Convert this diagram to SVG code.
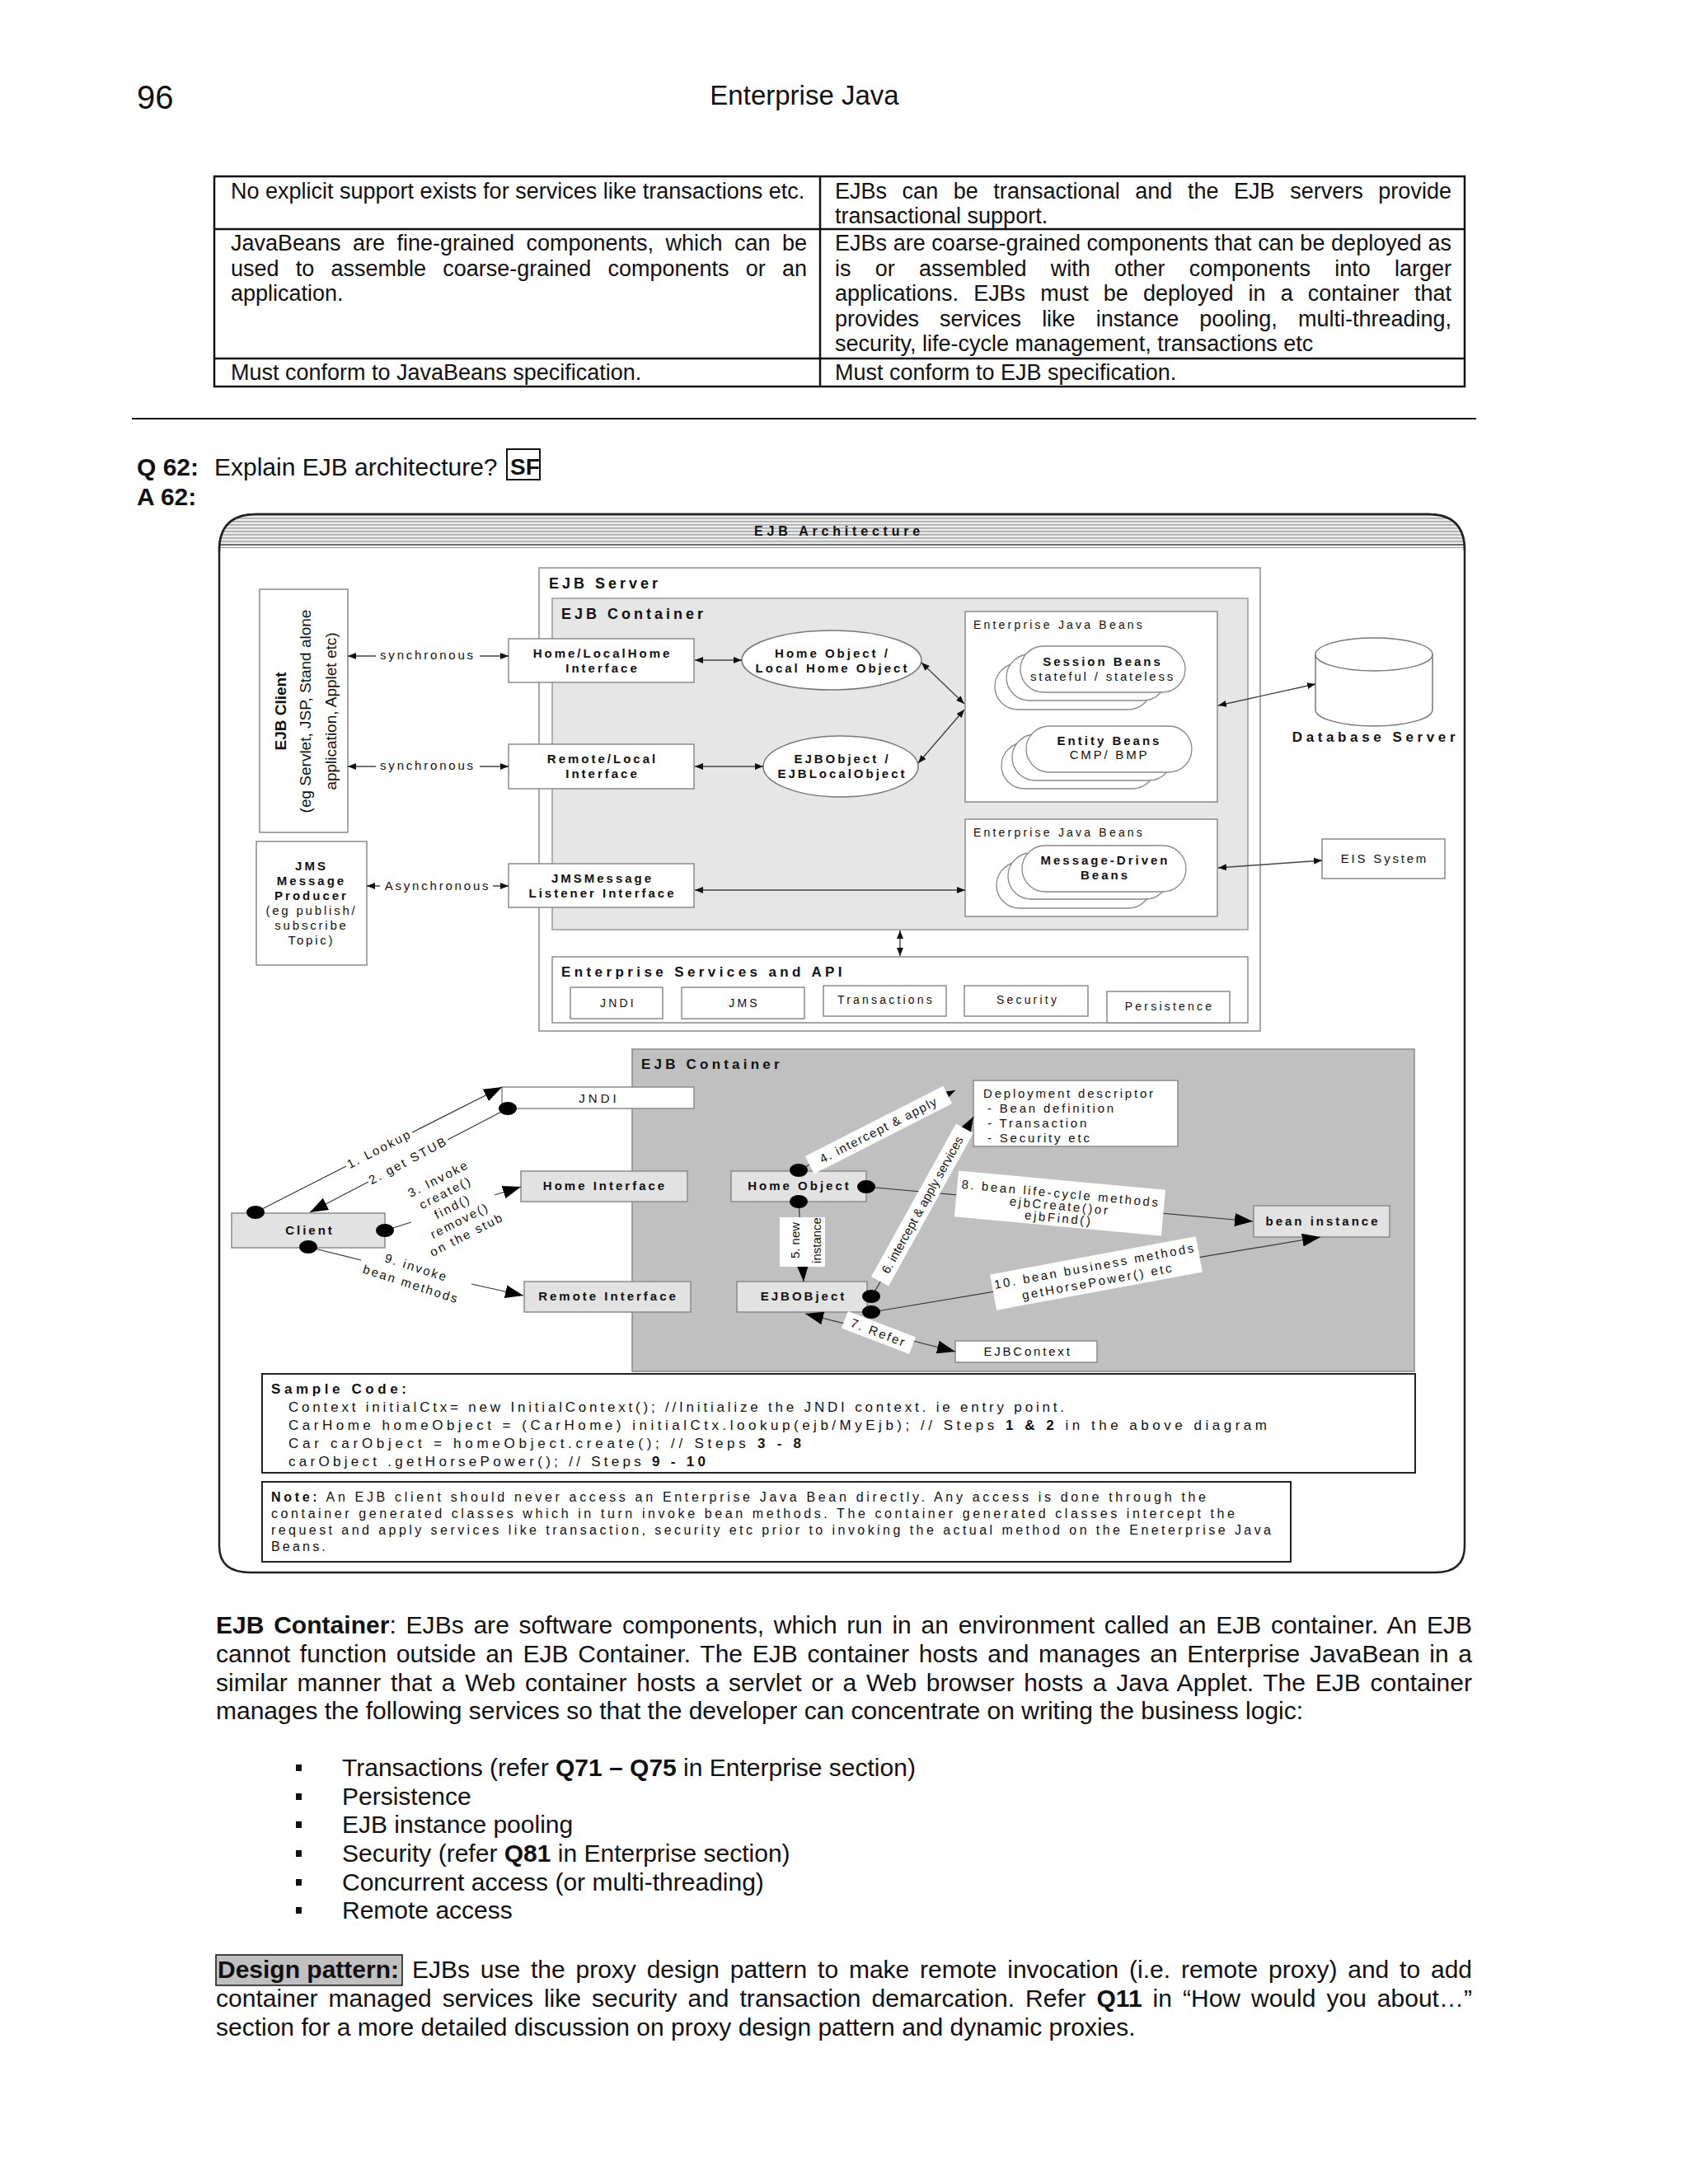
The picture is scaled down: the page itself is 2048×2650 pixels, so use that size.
<svg xmlns="http://www.w3.org/2000/svg" width="2048" height="2650" viewBox="0 0 2048 2650">
<style>
text{font-family:"Liberation Sans",Arial,Helvetica,sans-serif;fill:#111}
.b{font-weight:bold}
.m{text-anchor:middle}
.tb{font-size:27px}
.bd{font-size:30px}
.box{fill:#fff;stroke:#8a8a8a;stroke-width:1.5}
.gbox{fill:#e2e2e2;stroke:#8a8a8a;stroke-width:1.5}
.d15b{font-size:15px;font-weight:bold;letter-spacing:3px}
.d15{font-size:15px;letter-spacing:2.8px}
.d14{font-size:14px;letter-spacing:3.2px}
.h18{font-size:18px;font-weight:bold;letter-spacing:4px}
.conn{fill:none;stroke:#444;stroke-width:1.4}
.lc{fill:none;stroke:#333;stroke-width:1.2}
.lab{font-size:15px;letter-spacing:2.2px}
.lab2{font-size:15px;letter-spacing:2.6px}
.plain{font-size:15px}
.code{font-size:17px}
.note{font-size:16px}
.tl{fill:none;stroke:#111;stroke-width:2.5}
</style>
<defs>
<marker id="ma" viewBox="0 0 10 8" refX="10" refY="4" markerWidth="10" markerHeight="8" markerUnits="userSpaceOnUse" orient="auto-start-reverse"><path d="M0,0 L10,4 L0,8 z" fill="#111"/></marker>
<marker id="mb" viewBox="0 0 22 16" refX="22" refY="8" markerWidth="22" markerHeight="16" markerUnits="userSpaceOnUse" orient="auto-start-reverse"><path d="M0,0 L22,8 L0,16 z" fill="#000"/></marker>
<pattern id="stripes" width="8" height="4" patternUnits="userSpaceOnUse"><rect width="8" height="4" fill="#ececec"/><rect width="8" height="1.6" fill="#a9a9a9"/></pattern>
</defs>
<rect width="2048" height="2650" fill="#fff"/>

<g id="page-header">
<text x="166" y="132" font-size="40">96</text>
<text x="976" y="127" font-size="33" text-anchor="middle">Enterprise Java</text>
</g>

<g id="comparison-table">
<rect class="tl" x="260" y="214" width="1517" height="255"/>
<line class="tl" x1="260" y1="278" x2="1777" y2="278" stroke-width="3"/>
<line class="tl" x1="260" y1="435" x2="1777" y2="435" stroke-width="3"/>
<line class="tl" x1="995" y1="214" x2="995" y2="469" stroke-width="1.8"/>
<text class="tb" x="280" y="241">No explicit support exists for services like transactions etc.</text>
<text class="tb" x="1013" y="241" word-spacing="11" textLength="748" lengthAdjust="spacing">EJBs can be transactional and the EJB servers provide</text>
<text class="tb" x="1013" y="271">transactional support.</text>
<text class="tb" x="280" y="304" word-spacing="7" textLength="699" lengthAdjust="spacing">JavaBeans are fine-grained components, which can be</text>
<text class="tb" x="280" y="335" word-spacing="12.7" textLength="699" lengthAdjust="spacing">used to assemble coarse-grained components or an</text>
<text class="tb" x="280" y="365">application.</text>
<text class="tb" x="1013" y="304" textLength="748" lengthAdjust="spacing">EJBs are coarse-grained components that can be deployed as</text>
<text class="tb" x="1013" y="335" word-spacing="21.7" textLength="748" lengthAdjust="spacing">is or assembled with other components into larger</text>
<text class="tb" x="1013" y="365" word-spacing="10.6" textLength="748" lengthAdjust="spacing">applications. EJBs must be deployed in a container that</text>
<text class="tb" x="1013" y="396" word-spacing="17.6" textLength="748" lengthAdjust="spacing">provides services like instance pooling, multi-threading,</text>
<text class="tb" x="1013" y="426">security, life-cycle management, transactions etc</text>
<text class="tb" x="280" y="461">Must conform to JavaBeans specification.</text>
<text class="tb" x="1013" y="461">Must conform to EJB specification.</text>
</g>

<line x1="160" y1="508" x2="1791" y2="508" stroke="#111" stroke-width="2"/>

<g id="question">
<text x="166" y="577" font-size="30" class="b">Q 62:</text>
<text x="260" y="577" font-size="30">Explain EJB architecture?</text>
<rect x="615" y="545" width="40" height="37" fill="#fff" stroke="#111" stroke-width="2"/>
<text x="619" y="576" font-size="28" class="b">SF</text>
<text x="166" y="613" font-size="30" class="b">A 62:</text>
</g>

<g id="frame">
<path d="M266,668 Q266,624 311,624 L1733,624 Q1777,624 1777,668 L1777,1876 Q1777,1908 1741,1908 L304,1908 Q266,1908 266,1876 Z" fill="#fff" stroke="#222" stroke-width="2.5"/>
<path d="M267,662 Q268,625 311,625 L1733,625 Q1776,625 1776,662 Z" fill="url(#stripes)"/>
<line x1="267" y1="661" x2="1776" y2="661" stroke="#555" stroke-width="1.5"/>
<line x1="267" y1="664.5" x2="1776" y2="664.5" stroke="#999" stroke-width="1"/>
<path d="M266,668 Q266,624 311,624 L1733,624 Q1777,624 1777,668" fill="none" stroke="#222" stroke-width="2.5"/>
<text x="1018" y="650" font-size="16" class="b m" letter-spacing="4.8">EJB Architecture</text>
</g>

<g id="ejb-server">
<rect class="box" x="654" y="689" width="875" height="562"/>
<text class="h18" x="666" y="714">EJB Server</text>
</g>
<g id="ejb-container-top">
<rect x="670" y="726" width="844" height="402" fill="#e6e6e6" stroke="#999" stroke-width="1.5"/>
<text class="h18" x="681" y="751">EJB Container</text>
</g>

<g id="ejb-client">
<rect class="box" x="315" y="715" width="107" height="295"/>
<text class="b m" font-size="19" transform="translate(347,863) rotate(-90)">EJB Client</text>
<text class="m" font-size="19" transform="translate(377,863) rotate(-90)">(eg Servlet, JSP, Stand alone</text>
<text class="m" font-size="19" transform="translate(408,863) rotate(-90)">application, Applet etc)</text>
</g>

<g id="jms-producer">
<rect class="box" x="311" y="1021" width="134" height="150"/>
<text class="d15b m" x="378" y="1056">JMS</text>
<text class="d15b m" x="378" y="1074">Message</text>
<text class="d15b m" x="378" y="1092">Producer</text>
<text class="d15 m" x="378" y="1110">(eg publish/</text>
<text class="d15 m" x="378" y="1128">subscribe</text>
<text class="d15 m" x="378" y="1146">Topic)</text>
</g>

<g id="home-localhome-interface">
<rect class="box" x="617" y="775" width="225" height="53"/>
<text class="d15b m" x="731" y="798">Home/LocalHome</text>
<text class="d15b m" x="731" y="816">Interface</text>
</g>
<g id="remote-local-interface">
<rect class="box" x="617" y="903" width="225" height="54"/>
<text class="d15b m" x="731" y="926">Remote/Local</text>
<text class="d15b m" x="731" y="944">Interface</text>
</g>
<g id="jms-listener-interface">
<rect class="box" x="617" y="1048" width="225" height="53"/>
<text class="d15b m" x="731" y="1071">JMSMessage</text>
<text class="d15b m" x="731" y="1089">Listener Interface</text>
</g>

<g id="home-object">
<ellipse cx="1009" cy="801" rx="109" ry="36" fill="#fff" stroke="#777" stroke-width="1.5"/>
<text class="d15b m" x="1010" y="798">Home Object /</text>
<text class="d15b m" x="1010" y="816">Local Home Object</text>
</g>
<g id="ejb-object">
<ellipse cx="1020" cy="930" rx="94" ry="37" fill="#fff" stroke="#777" stroke-width="1.5"/>
<text class="d15b m" x="1022" y="926">EJBObject /</text>
<text class="d15b m" x="1022" y="944">EJBLocalObject</text>
</g>

<g id="ejb-beans-1">
<rect class="box" x="1171" y="742" width="306" height="231"/>
<text class="d14" x="1181" y="763">Enterprise Java Beans</text>
<rect x="1207" y="805" width="190" height="56" rx="28" fill="#fff" stroke="#888" stroke-width="1.3"/>
<rect x="1221" y="794" width="194" height="56" rx="28" fill="#fff" stroke="#888" stroke-width="1.3"/>
<rect x="1238" y="784" width="200" height="56" rx="28" fill="#fff" stroke="#888" stroke-width="1.3"/>
<text class="d15b m" x="1338" y="808">Session Beans</text>
<text class="d15 m" x="1338" y="826">stateful / stateless</text>
<rect x="1215" y="901" width="187" height="56" rx="28" fill="#fff" stroke="#888" stroke-width="1.3"/>
<rect x="1228" y="891" width="194" height="56" rx="28" fill="#fff" stroke="#888" stroke-width="1.3"/>
<rect x="1245" y="881" width="201" height="56" rx="28" fill="#fff" stroke="#888" stroke-width="1.3"/>
<text class="d15b m" x="1346" y="904">Entity Beans</text>
<text class="d15 m" x="1346" y="921">CMP/ BMP</text>
</g>

<g id="ejb-beans-2">
<rect class="box" x="1171" y="994" width="306" height="118"/>
<text class="d14" x="1181" y="1015">Enterprise Java Beans</text>
<rect x="1209" y="1046" width="188" height="56" rx="28" fill="#fff" stroke="#888" stroke-width="1.3"/>
<rect x="1223" y="1035" width="195" height="56" rx="28" fill="#fff" stroke="#888" stroke-width="1.3"/>
<rect x="1240" y="1026" width="199" height="56" rx="28" fill="#fff" stroke="#888" stroke-width="1.3"/>
<text class="d15b m" x="1341" y="1049">Message-Driven</text>
<text class="d15b m" x="1341" y="1067">Beans</text>
</g>

<g id="database-server">
<path d="M1596,794 L1596,861 A71,20 0 0 0 1738,861 L1738,794" fill="#fff" stroke="#777" stroke-width="1.5"/>
<ellipse cx="1667" cy="794" rx="71" ry="20" fill="#fff" stroke="#777" stroke-width="1.5"/>
<text class="m b" x="1669" y="900" font-size="17" letter-spacing="4.6">Database Server</text>
</g>

<g id="eis-system">
<rect class="box" x="1604" y="1018" width="149" height="48"/>
<text class="d15 m" x="1680" y="1047">EIS System</text>
</g>

<g id="enterprise-services">
<rect class="box" x="670" y="1161" width="844" height="80"/>
<text x="681" y="1185" font-size="17" class="b" letter-spacing="4.4">Enterprise Services and API</text>
<rect class="box" x="692" y="1198" width="112" height="38"/>
<text class="d14 m" x="750" y="1222">JNDI</text>
<rect class="box" x="827" y="1198" width="149" height="38"/>
<text class="d14 m" x="903" y="1222">JMS</text>
<rect class="box" x="999" y="1196" width="149" height="37"/>
<text class="d14 m" x="1075" y="1218">Transactions</text>
<rect class="box" x="1170" y="1196" width="150" height="37"/>
<text class="d14 m" x="1247" y="1218">Security</text>
<rect class="box" x="1343" y="1203" width="149" height="38"/>
<text class="d14 m" x="1419" y="1226">Persistence</text>
</g>

<g id="ejb-container-bottom">
<rect x="767" y="1273" width="949" height="391" fill="#c0c0c0" stroke="#888" stroke-width="1.5"/>
<text x="778" y="1297" font-size="17" class="b" letter-spacing="4.2">EJB Container</text>
</g>

<g id="jndi-lower">
<rect class="box" x="609" y="1319" width="233" height="26"/>
<text class="m" x="727" y="1338" font-size="15" letter-spacing="4">JNDI</text>
</g>
<g id="client">
<rect class="gbox" x="281" y="1472" width="186" height="42"/>
<text class="d15b m" x="376" y="1498">Client</text>
</g>
<g id="home-interface">
<rect class="gbox" x="632" y="1421" width="202" height="37"/>
<text class="d15b m" x="734" y="1444">Home Interface</text>
</g>
<g id="home-object-lower">
<rect class="gbox" x="887" y="1421" width="164" height="37"/>
<text class="d15b m" x="970" y="1444">Home Object</text>
</g>
<g id="remote-interface">
<rect class="gbox" x="636" y="1555" width="202" height="37"/>
<text class="d15b m" x="738" y="1578">Remote Interface</text>
</g>
<g id="ejbobject-lower">
<rect class="gbox" x="894" y="1555" width="158" height="37"/>
<text class="d15b m" x="975" y="1578">EJBOBject</text>
</g>
<g id="deployment-descriptor">
<rect class="box" x="1181" y="1311" width="248" height="80"/>
<text class="d15" x="1193" y="1332">Deployment descriptor</text>
<text class="d15" x="1198" y="1350">- Bean definition</text>
<text class="d15" x="1198" y="1368">- Transaction</text>
<text class="d15" x="1198" y="1386">- Security etc</text>
</g>
<g id="bean-instance">
<rect class="gbox" x="1521" y="1463" width="165" height="38"/>
<text class="d15b m" x="1605" y="1487">bean instance</text>
</g>
<g id="ejbcontext">
<rect class="box" x="1159" y="1627" width="172" height="26"/>
<text class="d15 m" x="1247" y="1645">EJBContext</text>
</g>

<g id="connectors">
<path class="conn" d="M422,796 L456,796 M582,796 L617,796" marker-start="url(#ma)" marker-end="url(#ma)"/>
<path class="conn" d="M422,930 L456,930 M582,930 L617,930" marker-start="url(#ma)" marker-end="url(#ma)"/>
<path class="conn" d="M445,1075 L461,1075 M598,1075 L617,1075" marker-start="url(#ma)" marker-end="url(#ma)"/>
<line class="conn" x1="843" y1="801" x2="900" y2="801" marker-start="url(#ma)" marker-end="url(#ma)"/>
<line class="conn" x1="843" y1="930" x2="926" y2="930" marker-start="url(#ma)" marker-end="url(#ma)"/>
<line class="conn" x1="843" y1="1080" x2="1171" y2="1080" marker-start="url(#ma)" marker-end="url(#ma)"/>
<line class="conn" x1="1118" y1="804" x2="1170" y2="854" marker-start="url(#ma)" marker-end="url(#ma)"/>
<line class="conn" x1="1114" y1="926" x2="1170" y2="861" marker-start="url(#ma)" marker-end="url(#ma)"/>
<line class="conn" x1="1478" y1="856" x2="1596" y2="830" marker-start="url(#ma)" marker-end="url(#ma)"/>
<line class="conn" x1="1478" y1="1053" x2="1604" y2="1044" marker-start="url(#ma)" marker-end="url(#ma)"/>
<line class="conn" x1="1092" y1="1129" x2="1092" y2="1160" marker-start="url(#ma)" marker-end="url(#ma)"/>

<path class="lc" d="M310,1471 L420,1415 M500,1374 L609,1319" marker-end="url(#mb)"/>
<path class="lc" d="M616,1345 L543,1383 M447,1434 L376,1471" marker-end="url(#mb)"/>
<path class="lc" d="M467,1493 L499,1483 M600,1450 L632,1440" marker-end="url(#mb)"/>
<path class="lc" d="M374,1513 L438,1529 M572,1558 L635,1572" marker-end="url(#mb)"/>
<line class="lc" x1="969" y1="1420" x2="1159" y2="1323" marker-end="url(#mb)"/>
<line class="lc" x1="969" y1="1458" x2="975" y2="1555" marker-end="url(#mb)"/>
<line class="lc" x1="1058" y1="1573" x2="1181" y2="1355" marker-end="url(#mb)"/>
<line class="lc" x1="977" y1="1594" x2="1159" y2="1640" marker-start="url(#mb)" marker-end="url(#mb)"/>
<line class="lc" x1="1051" y1="1440" x2="1520" y2="1482" marker-end="url(#mb)"/>
<line class="lc" x1="1058" y1="1592" x2="1602" y2="1501" marker-end="url(#mb)"/>

<ellipse cx="310" cy="1471" rx="11" ry="8"/>
<ellipse cx="616" cy="1345" rx="11" ry="8"/>
<ellipse cx="467" cy="1493" rx="11" ry="8"/>
<ellipse cx="374" cy="1513" rx="11" ry="8"/>
<ellipse cx="969" cy="1420" rx="11" ry="8"/>
<ellipse cx="969" cy="1458" rx="11" ry="8"/>
<ellipse cx="1051" cy="1440" rx="11" ry="8"/>
<ellipse cx="1057" cy="1573" rx="11" ry="8"/>
<ellipse cx="1057" cy="1592" rx="11" ry="8"/>
</g>

<g id="connector-labels">
<text class="d15 m" x="519" y="800">synchronous</text>
<text class="d15 m" x="519" y="934">synchronous</text>
<text class="d15 m" x="531" y="1080">Asynchronous</text>

<text class="lab m" transform="translate(460,1394) rotate(-27)" dy="0.35em">1. Lookup</text>
<text class="lab m" transform="translate(495,1408) rotate(-28)" dy="0.35em">2. get STUB</text>
<g transform="translate(549,1464) rotate(-27)">
<text class="lab m" y="-38" dy="0.35em">3. Invoke</text>
<text class="lab m" y="-19" dy="0.35em">create()</text>
<text class="lab m" y="0" dy="0.35em">find()</text>
<text class="lab m" y="19" dy="0.35em">remove()</text>
<text class="lab m" y="38" dy="0.35em">on the stub</text>
</g>
<g transform="translate(502,1548) rotate(18)">
<text class="lab m" y="-10.5" dy="0.35em">9. invoke</text>
<text class="lab m" y="10.5" dy="0.35em">bean methods</text>
</g>

<g transform="translate(1066,1371) rotate(-27)">
<rect x="-94" y="-12" width="188" height="24" fill="#fff"/>
<text class="m" font-size="15" letter-spacing="1.5" dy="0.35em">4. intercept &amp; apply</text>
</g>
<rect x="946" y="1477" width="55" height="60" fill="#fff"/>
<text class="plain m" transform="translate(970,1505) rotate(-90)">5. new</text>
<text class="plain m" transform="translate(996,1505) rotate(-90)">instance</text>
<g transform="translate(1119,1462) rotate(-61)">
<rect x="-106" y="-12" width="212" height="24" fill="#fff"/>
<text class="plain m" dy="0.35em">6. intercept &amp; apply services</text>
</g>
<g transform="translate(1066,1617) rotate(21)">
<rect x="-44" y="-11" width="88" height="22" fill="#fff"/>
<text class="lab m" dy="0.35em">7. Refer</text>
</g>
<g transform="translate(1286,1460) rotate(5.3)">
<rect x="-126" y="-28" width="252" height="56" fill="#fff"/>
<text class="lab2 m" y="-12" dy="0.35em">8. bean life-cycle methods</text>
<text class="lab2 m" y="3" dy="0.35em">ejbCreate()or</text>
<text class="lab2 m" y="18" dy="0.35em">ejbFind()</text>
</g>
<g transform="translate(1330,1545) rotate(-10.5)">
<rect x="-127" y="-22" width="254" height="44" fill="#fff"/>
<text class="lab2 m" y="-9" dy="0.35em">10. bean business methods</text>
<text class="lab2 m" y="10" dy="0.35em">getHorsePower() etc</text>
</g>
</g>

<g id="sample-code">
<rect x="318" y="1667" width="1399" height="120" fill="#fff" stroke="#222" stroke-width="2"/>
<text x="329" y="1691" font-size="17" class="b" letter-spacing="4.6">Sample Code:</text>
<text class="code" x="350" y="1713" textLength="941" lengthAdjust="spacing">Context initialCtx= new InitialContext();  //Initialize the JNDI context. ie entry point.</text>
<text class="code" x="350" y="1735" textLength="1187" lengthAdjust="spacing">CarHome homeObject =  (CarHome)  initialCtx.lookup(ejb/MyEjb); //  Steps <tspan class="b">1 &amp; 2</tspan> in the above diagram</text>
<text class="code" x="350" y="1757" textLength="622" lengthAdjust="spacing">Car   carObject  = homeObject.create(); // Steps  <tspan class="b">3 - 8</tspan></text>
<text class="code" x="350" y="1779" textLength="506" lengthAdjust="spacing">carObject .getHorsePower();  // Steps <tspan class="b">9 - 10</tspan></text>
</g>

<g id="note">
<rect x="318" y="1798" width="1248" height="97" fill="#fff" stroke="#222" stroke-width="2"/>
<text class="note" x="329" y="1822" textLength="1134" lengthAdjust="spacing"><tspan class="b">Note:</tspan> An EJB client should never access an Enterprise Java Bean directly. Any access is done through the</text>
<text class="note" x="329" y="1842" textLength="1169" lengthAdjust="spacing">container generated classes which in turn invoke bean methods. The container generated classes intercept the</text>
<text class="note" x="329" y="1862" textLength="1213" lengthAdjust="spacing">request and apply services like transaction, security etc prior to invoking the actual method on the Eneterprise Java</text>
<text class="note" x="329" y="1882" letter-spacing="3.2">Beans.</text>
</g>

<g id="body-text">
<text class="bd" x="262" y="1982" word-spacing="3.3" textLength="1524" lengthAdjust="spacing"><tspan class="b">EJB Container</tspan>: EJBs are software components, which run in an environment called an EJB container. An EJB</text>
<text class="bd" x="262" y="2017" word-spacing="3.3" textLength="1524" lengthAdjust="spacing">cannot function outside an EJB Container. The EJB container hosts and manages an Enterprise JavaBean in a</text>
<text class="bd" x="262" y="2052" word-spacing="3.3" textLength="1524" lengthAdjust="spacing">similar manner that a Web container hosts a servlet or a Web browser hosts a Java Applet. The EJB container</text>
<text class="bd" x="262" y="2086">manages the following services so that the developer can concentrate on writing the business logic:</text>
<rect x="359" y="2141" width="7" height="8" fill="#111"/>
<text class="bd" x="415" y="2155">Transactions (refer <tspan class="b">Q71 – Q75</tspan> in Enterprise section)</text>
<rect x="359" y="2176" width="7" height="8" fill="#111"/>
<text class="bd" x="415" y="2190">Persistence</text>
<rect x="359" y="2210" width="7" height="8" fill="#111"/>
<text class="bd" x="415" y="2224">EJB instance pooling</text>
<rect x="359" y="2245" width="7" height="8" fill="#111"/>
<text class="bd" x="415" y="2259">Security (refer <tspan class="b">Q81</tspan> in Enterprise section)</text>
<rect x="359" y="2280" width="7" height="8" fill="#111"/>
<text class="bd" x="415" y="2294">Concurrent access (or multi-threading)</text>
<rect x="359" y="2314" width="7" height="8" fill="#111"/>
<text class="bd" x="415" y="2328">Remote access</text>
<rect x="262" y="2372" width="226" height="37" fill="#c0c0c0" stroke="#111" stroke-width="1.5"/>
<text class="bd b" x="264" y="2400">Design pattern:</text>
<text class="bd" x="500" y="2400" word-spacing="4.5" textLength="1286" lengthAdjust="spacing">EJBs use the proxy design pattern to make remote invocation (i.e. remote proxy) and to add</text>
<text class="bd" x="262" y="2435" word-spacing="4.6" textLength="1524" lengthAdjust="spacing">container managed services like security and transaction demarcation. Refer <tspan class="b">Q11</tspan> in “How would you about…”</text>
<text class="bd" x="262" y="2470">section for a more detailed discussion on proxy design pattern and dynamic proxies.</text>
</g>
</svg>
